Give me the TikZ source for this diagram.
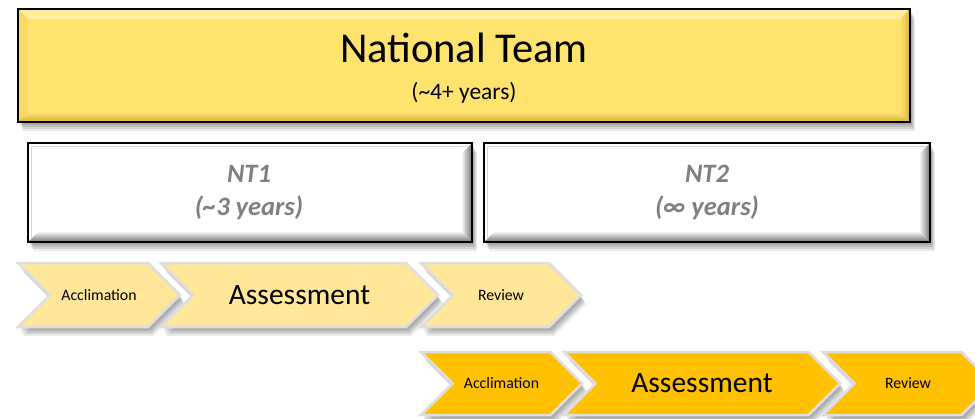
\documentclass[tikz,border=0pt]{standalone}
\usepackage{fontspec}
\setmainfont{Carlito}
\usetikzlibrary{shadows,calc}
\definecolor{ntyellow}{HTML}{FFE36F}
\definecolor{ntlight}{HTML}{FFEE9C}
\definecolor{ntleft}{HTML}{F7D968}
\definecolor{ntdark}{HTML}{D6B03E}
\definecolor{chevlight}{HTML}{FFE699}
\definecolor{chevgold}{HTML}{FFC000}
\definecolor{chevedge}{HTML}{DEDEDE}
\definecolor{ntgrey}{HTML}{7F7F7F}
\newcommand{\chevron}[7]{%
  \pgfmathsetmacro\cd{(#5-#4)/2}%
  \pgfmathsetmacro\cm{(#4+#5)/2}%
  \path[#6] (#2,#4) -- ({#3-\cd},#4) -- (#3,\cm) -- ({#3-\cd},#5) -- (#2,#5) -- ({#2+\cd},\cm) -- cycle;
  \node[chevtext] (#1) at ({(#2+#3)/2},\cm) {#7};
}
\newcommand{\whitebevel}[1]{%
  \shade[left color=white,right color=black!55] ($(#1.north east)+(-11,11)$) -- (#1.north east) -- (#1.south east) -- ($(#1.south east)+(-11,-11)$) -- cycle;
  \shade[top color=white,bottom color=black!55] ($(#1.south west)+(11,-11)$) -- ($(#1.south east)+(-11,-11)$) -- (#1.south east) -- (#1.south west) -- cycle;
  \draw[black!15,line width=1pt] ($(#1.south west)+(3,-3)$) -- ($(#1.north west)+(3,3)$) -- ($(#1.north east)+(-3,3)$);
  \draw[black,line width=2.2pt] (#1.north west) rectangle (#1.south east);
}
\begin{document}
\begin{tikzpicture}[x=1pt,y=-1pt,
  softshadow/.style={
    drop shadow={shadow xshift=2pt,shadow yshift=-3pt,opacity=.10,fill=black},
    drop shadow={shadow xshift=3pt,shadow yshift=-5pt,opacity=.10,fill=black},
    drop shadow={shadow xshift=4pt,shadow yshift=-7pt,opacity=.10,fill=black},
    drop shadow={shadow xshift=5pt,shadow yshift=-9pt,opacity=.08,fill=black}},
  chevA/.style={fill=chevlight,draw=chevedge,line width=2.5pt,line join=miter,softshadow},
  chevB/.style={fill=chevgold,draw=chevedge,line width=2.5pt,line join=miter,softshadow},
  chevtext/.style={inner sep=0pt,font=\fontsize{15.8}{18}\selectfont},
  bigtext/.style={inner sep=0pt,font=\fontsize{29.5}{34}\selectfont},
  ntbox/.style={fill=white,inner sep=0pt,outer sep=0pt,minimum height=99pt,softshadow},
  nttext/.style={inner sep=0pt,anchor=base,text=ntgrey,font=\fontsize{26.5}{30}\selectfont\bfseries\itshape}]
\useasboundingbox (0,0) rectangle (975,418);

% National Team box
\node[fill=ntyellow,minimum width=892pt,minimum height=113pt,inner sep=0pt,outer sep=0pt,softshadow] (nt) at (464,65.5) {};
\fill[ntlight] (nt.north west) -- (nt.north east) -- ($(nt.north east)+(-10,10)$) -- ($(nt.north west)+(10,10)$) -- cycle;
\fill[ntleft] (nt.north west) -- ($(nt.north west)+(10,10)$) -- ($(nt.south west)+(10,-10)$) -- (nt.south west) -- cycle;
\shade[top color=ntyellow,bottom color=ntdark] ($(nt.south west)+(10,-10)$) -- ($(nt.south east)+(-10,-10)$) -- (nt.south east) -- (nt.south west) -- cycle;
\shade[left color=ntyellow,right color=ntdark] ($(nt.north east)+(-10,10)$) -- (nt.north east) -- (nt.south east) -- ($(nt.south east)+(-10,-10)$) -- cycle;
\draw[black,line width=2pt] (nt.north west) rectangle (nt.south east);
\node[inner sep=0pt,anchor=base,font=\fontsize{42.5}{50}\selectfont] (ntt) at (464,62) {National Team};
\node[inner sep=0pt,anchor=base,font=\fontsize{23.5}{26}\selectfont] (nty) at (464,99) {(\textasciitilde 4+ years)};

% NT1 and NT2 boxes
\node[ntbox,minimum width=444pt] (n1) at (250,192.5) {};
\whitebevel{n1}
\node[ntbox,minimum width=446pt] (n2) at (707,192.5) {};
\whitebevel{n2}
\node[nttext] (n1a) at (249,182) {NT1};
\node[nttext] (n1b) at (249,215) {(\textasciitilde 3 years)};
\node[nttext] (n2a) at (707,182) {NT2};
\node[nttext] (n2b) at (707,215) {(∞ years)};

% Row 1 chevrons
\chevron{a1}{18}{180}{263}{327}{chevA}{Acclimation}
\chevron{s1}{161}{438}{263}{327}{chevA}{}
\node[bigtext] (s1t) at (s1) {Assessment};
\chevron{r1}{421}{581}{263}{327}{chevA}{Review}

% Row 2 chevrons
\chevron{a2}{421}{582}{352}{415}{chevB}{Acclimation}
\chevron{s2}{564}{840}{352}{415}{chevB}{}
\node[bigtext] (s2t) at (s2) {Assessment};
\chevron{r2}{823}{993}{352}{415}{chevB}{Review}
\end{tikzpicture}
\end{document}
